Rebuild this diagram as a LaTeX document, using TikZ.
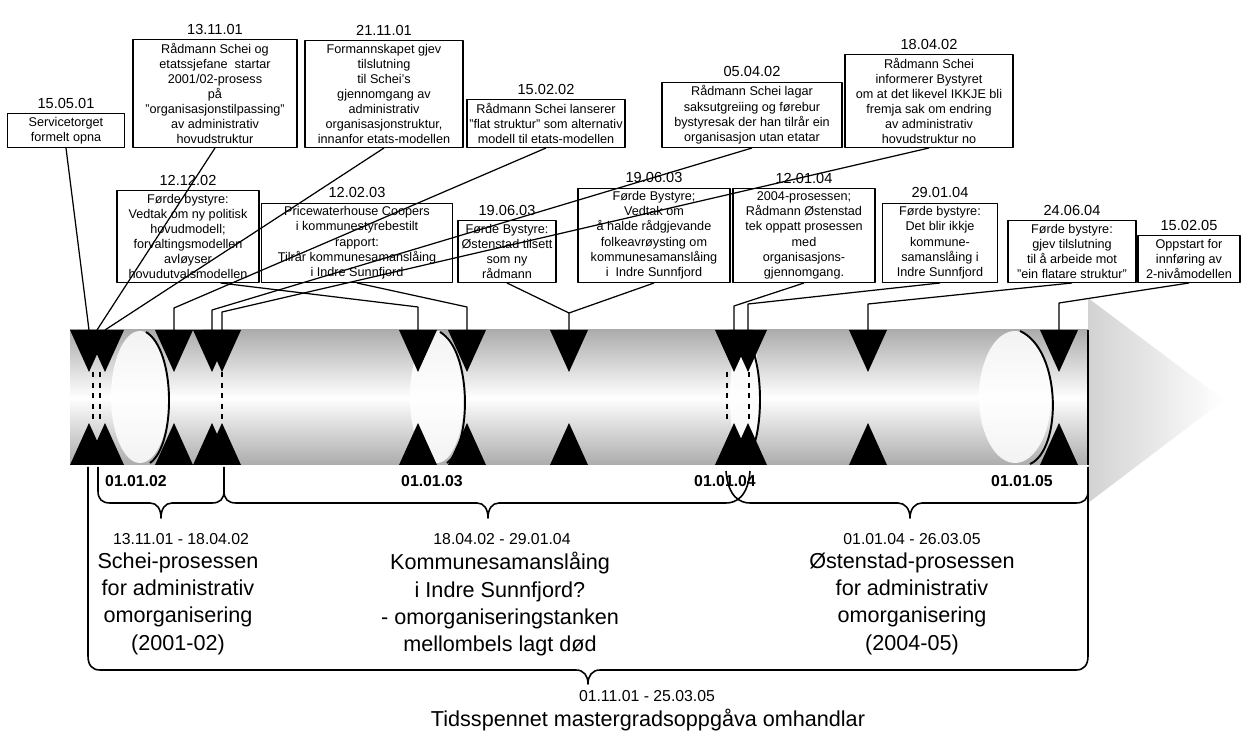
\documentclass[tikz,border=0pt]{standalone}
\usepackage{fontspec}
\setmainfont{Liberation Sans}
\usetikzlibrary{positioning}

\begin{document}
\begin{tikzpicture}[x=0.02cm,y=-0.02cm,line join=round,
  evbox/.style={draw,line width=.6pt,fill=white,align=center,anchor=south,inner xsep=1pt,inner ysep=2pt,minimum width=#1*0.02cm,font=\fontsize{7.2}{8.6}\selectfont},
  datelbl/.style={inner sep=1pt,font=\fontsize{8.3}{9}\selectfont},
  yearlbl/.style={inner sep=1pt,font=\bfseries\fontsize{9}{10}\selectfont},
  spanlbl/.style={inner sep=1pt,font=\fontsize{9}{10}\selectfont},
  phaselbl/.style={align=center,anchor=north,inner sep=0pt,font=\fontsize{12.3}{15.6}\selectfont},
  conn/.style={line width=.7pt},
  brace/.style={line width=.9pt}]
  \useasboundingbox (0,0) rectangle (1248,742);
  % ---------- band
  \shade[left color=gray!35,right color=white] (1088,298) -- (1224,400) -- (1088,503) -- cycle;
  \shade[top color=gray!65,bottom color=gray!65,middle color=white] (70,330) rectangle (1088,465);
  \fill[white,opacity=.85] (140,397) ellipse (29 and 66);
  \fill[white,opacity=.85] (437,397) ellipse (27 and 66);
  \fill[white,opacity=.85] (745,397) ellipse (15 and 66);
  \fill[white,opacity=.85] (1015,397) ellipse (36 and 66);
  \draw[line width=1.1pt] (146,332) .. controls (176,350) and (176,445) .. (150,463);
  \draw[line width=1.1pt] (440,332) .. controls (472,350) and (472,445) .. (447,463);
  \draw[line width=1.1pt] (748,340) .. controls (764,365) and (764,435) .. (748,458);
  \draw[line width=1.1pt] (1020,331) .. controls (1062,350) and (1062,450) .. (1030,464);
  \draw[dashed,line width=.8pt] (93,372) -- (93,423) (100,372) -- (100,423) (222,372) -- (222,423)
    (727,372) -- (727,423) (749,372) -- (749,423);
  \draw[line width=.7pt] (1088,330) -- (1088,465);
  \foreach \x in {89,105,174,212,222,418,467,569,734,748,868,1059} {
    \fill (\x-19,330) -- (\x+19,330) -- (\x,372) -- cycle;
    \fill (\x-19,465) -- (\x+19,465) -- (\x,423) -- cycle;
  }
  \coordinate (p1) at (89,330);  \coordinate (m1) at (97,330);  \coordinate (p2) at (105,330);
  \coordinate (p3) at (174,330); \coordinate (p4) at (212,330); \coordinate (p5) at (222,330);
  \coordinate (p6) at (418,330); \coordinate (p7) at (467,330); \coordinate (p8) at (569,330);
  \coordinate (p9) at (734,330); \coordinate (p10) at (748,330); \coordinate (p11) at (868,330);
  \coordinate (p12) at (1059,330);
  % ---------- top row
  \node[evbox=117] (ev1) at (66,148) {Servicetorget\\formelt opna};
  \node[evbox=164] (ev2) at (215,148) {Rådmann Schei og\\etatssjefane\ \ startar\\2001/02-prosess\\på\\"organisasjonstilpassing"\\av administrativ\\hovudstruktur};
  \node[evbox=158] (ev3) at (384,148) {Formannskapet gjev\\tilslutning\\til Schei's\\gjennomgang av\\administrativ\\organisasjonstruktur,\\innanfor etats-modellen};
  \node[evbox=158] (ev4) at (546,148) {Rådmann Schei lanserer\\"flat struktur" som alternativ\\modell til etats-modellen};
  \node[evbox=180] (ev5) at (752,148) {Rådmann Schei lagar\\saksutgreiing og førebur\\bystyresak der han tilrår ein\\organisasjon utan etatar};
  \node[evbox=168] (ev6) at (929,148) {Rådmann Schei\\informerer Bystyret\\om at det likevel IKKJE bli\\fremja sak om endring\\av administrativ\\hovudstruktur no};
  \node[datelbl,above=1.5pt of ev1] (dt1) {15.05.01};
  \node[datelbl,above=1.5pt of ev2] (dt2) {13.11.01};
  \node[datelbl,above=1.5pt of ev3] (dt3) {21.11.01};
  \node[datelbl,above=1.5pt of ev4] (dt4) {15.02.02};
  \node[datelbl,above=1.5pt of ev5] (dt5) {05.04.02};
  \node[datelbl,above=1.5pt of ev6] (dt6) {18.04.02};
  % ---------- second row
  \node[evbox=142] (ev7) at (188,283) {Førde bystyre:\\Vedtak om ny politisk\\hovudmodell;\\forvaltingsmodellen\\avløyser\\hovudutvalsmodellen};
  \node[evbox=191] (ev8) at (357,283) {Pricewaterhouse Coopers\\i kommunestyrebestilt\\rapport:\\Tilrår kommunesamanslåing\\i Indre Sunnfjord};
  \node[evbox=98] (ev9) at (507,283) {Førde Bystyre:\\Østenstad tilsett\\som ny\\rådmann};
  \node[evbox=152] (ev10) at (654,283) {Førde Bystyre;\\Vedtak om\\å halde rådgjevande\\folkeavrøysting om\\kommunesamanslåing\\i\ \ Indre Sunnfjord};
  \node[evbox=142] (ev11) at (804,283) {2004-prosessen;\\Rådmann Østenstad\\tek oppatt prosessen\\med\\organisasjons-\\gjennomgang.};
  \node[evbox=115] (ev12) at (940,283) {Førde bystyre:\\Det blir ikkje\\kommune-\\samanslåing i\\Indre Sunnfjord};
  \node[evbox=128] (ev13) at (1072,283) {Førde bystyre:\\gjev tilslutning\\til å arbeide mot\\"ein flatare struktur"};
  \node[evbox=102] (ev14) at (1189,283) {Oppstart for\\innføring av\\2-nivåmodellen};
  \node[datelbl,above=1.5pt of ev7] (dt7) {12.12.02};
  \node[datelbl,above=1.5pt of ev8] (dt8) {12.02.03};
  \node[datelbl,above=1.5pt of ev9] (dt9) {19.06.03};
  \node[datelbl,above=1.5pt of ev10] (dt10) {19.06.03};
  \node[datelbl,above=1.5pt of ev11] (dt11) {12.01.04};
  \node[datelbl,above=1.5pt of ev12] (dt12) {29.01.04};
  \node[datelbl,above=1.5pt of ev13] (dt13) {24.06.04};
  \node[datelbl,above=1.5pt of ev14] (dt14) {15.02.05};
  % ---------- connectors
  \coordinate (k3) at (174,308); \coordinate (k4) at (212,310); \coordinate (k5) at (222,312);
  \coordinate (k6) at (418,307); \coordinate (k7) at (467,307); \coordinate (k8) at (569,313);
  \coordinate (k9) at (734,306); \coordinate (k10) at (748,304); \coordinate (k11) at (868,304);
  \coordinate (k12) at (1059,303);
  \draw[conn] (ev1.south) -- (p1);
  \draw[conn] (ev2.south) -- (m1);
  \draw[conn] (ev3.south) -- (p2);
  \draw[conn] (ev4.south) -- (k3) -- (p3);
  \draw[conn] (ev5.south) -- (k4) -- (p4);
  \draw[conn] (ev6.south) -- (k5) -- (p5);
  \draw[conn] (ev7.-55) -- (k6) -- (p6);
  \draw[conn] (ev8.south) -- (k7) -- (p7);
  \draw[conn] (ev9.south) -- (k8) -- (p8);
  \draw[conn] (ev10.south) -- (k8);
  \draw[conn] (ev11.south) -- (k9) -- (p9);
  \draw[conn] (ev12.south) -- (k10) -- (p10);
  \draw[conn] (ev13.south) -- (k11) -- (p11);
  \draw[conn] (ev14.south) -- (k12) -- (p12);
  % ---------- braces
  \draw[brace] (98,467) -- (98,491) .. controls (98,499) and (102,503) .. (110,503) -- (150,503)
    .. controls (157,503) and (161,509) .. (161,518) .. controls (161,509) and (165,503) .. (172,503)
    -- (212,503) .. controls (220,503) and (224,499) .. (224,491) -- (224,467);
  \draw[brace] (224,491) .. controls (224,499) and (228,503) .. (236,503) -- (477,503)
    .. controls (484,503) and (488,509) .. (488,518) .. controls (488,509) and (492,503) .. (499,503)
    -- (726,503) .. controls (736,503) and (748,497) .. (750,471);
  \draw[brace] (726,471) .. controls (728,497) and (740,503) .. (750,503) -- (898,503)
    .. controls (905,503) and (910,509) .. (910,518) .. controls (910,509) and (915,503) .. (922,503)
    -- (1076,503) .. controls (1084,503) and (1088,499) .. (1088,491) -- (1088,467);
  \draw[brace] (88,467) -- (88,656) .. controls (88,665) and (92,670) .. (100,670) -- (576,670)
    .. controls (584,670) and (588,676) .. (588,684) .. controls (588,676) and (592,670) .. (600,670)
    -- (1076,670) .. controls (1084,670) and (1088,665) .. (1088,656) -- (1088,491);
  % ---------- bottom labels
  \node[yearlbl] (y02) at (136,481) {01.01.02};
  \node[yearlbl] (y03) at (432,481) {01.01.03};
  \node[yearlbl] (y04) at (725,481) {01.01.04};
  \node[yearlbl] (y05) at (1022,481) {01.01.05};
  \node[spanlbl] (sA) at (181,539) {13.11.01 - 18.04.02};
  \node[spanlbl] (sB) at (502,539) {18.04.02 - 29.01.04};
  \node[spanlbl] (sC) at (912,539) {01.01.04 - 26.03.05};
  \node[phaselbl] (phA) at (178,552) {Schei-prosessen\\for administrativ\\omorganisering\\(2001-02)};
  \node[phaselbl] (phB) at (500,552) {Kommunesamanslåing\\i Indre Sunnfjord?\\- omorganiseringstanken\\mellombels lagt død};
  \node[phaselbl] (phC) at (912,552) {Østenstad-prosessen\\for administrativ\\omorganisering\\(2004-05)};
  \node[spanlbl] (sAll) at (647,696) {01.11.01 - 25.03.05};
  \node[font=\fontsize{12.3}{14}\selectfont] (tot) at (648,720) {Tidsspennet mastergradsoppgåva omhandlar};
\end{tikzpicture}
\end{document}
